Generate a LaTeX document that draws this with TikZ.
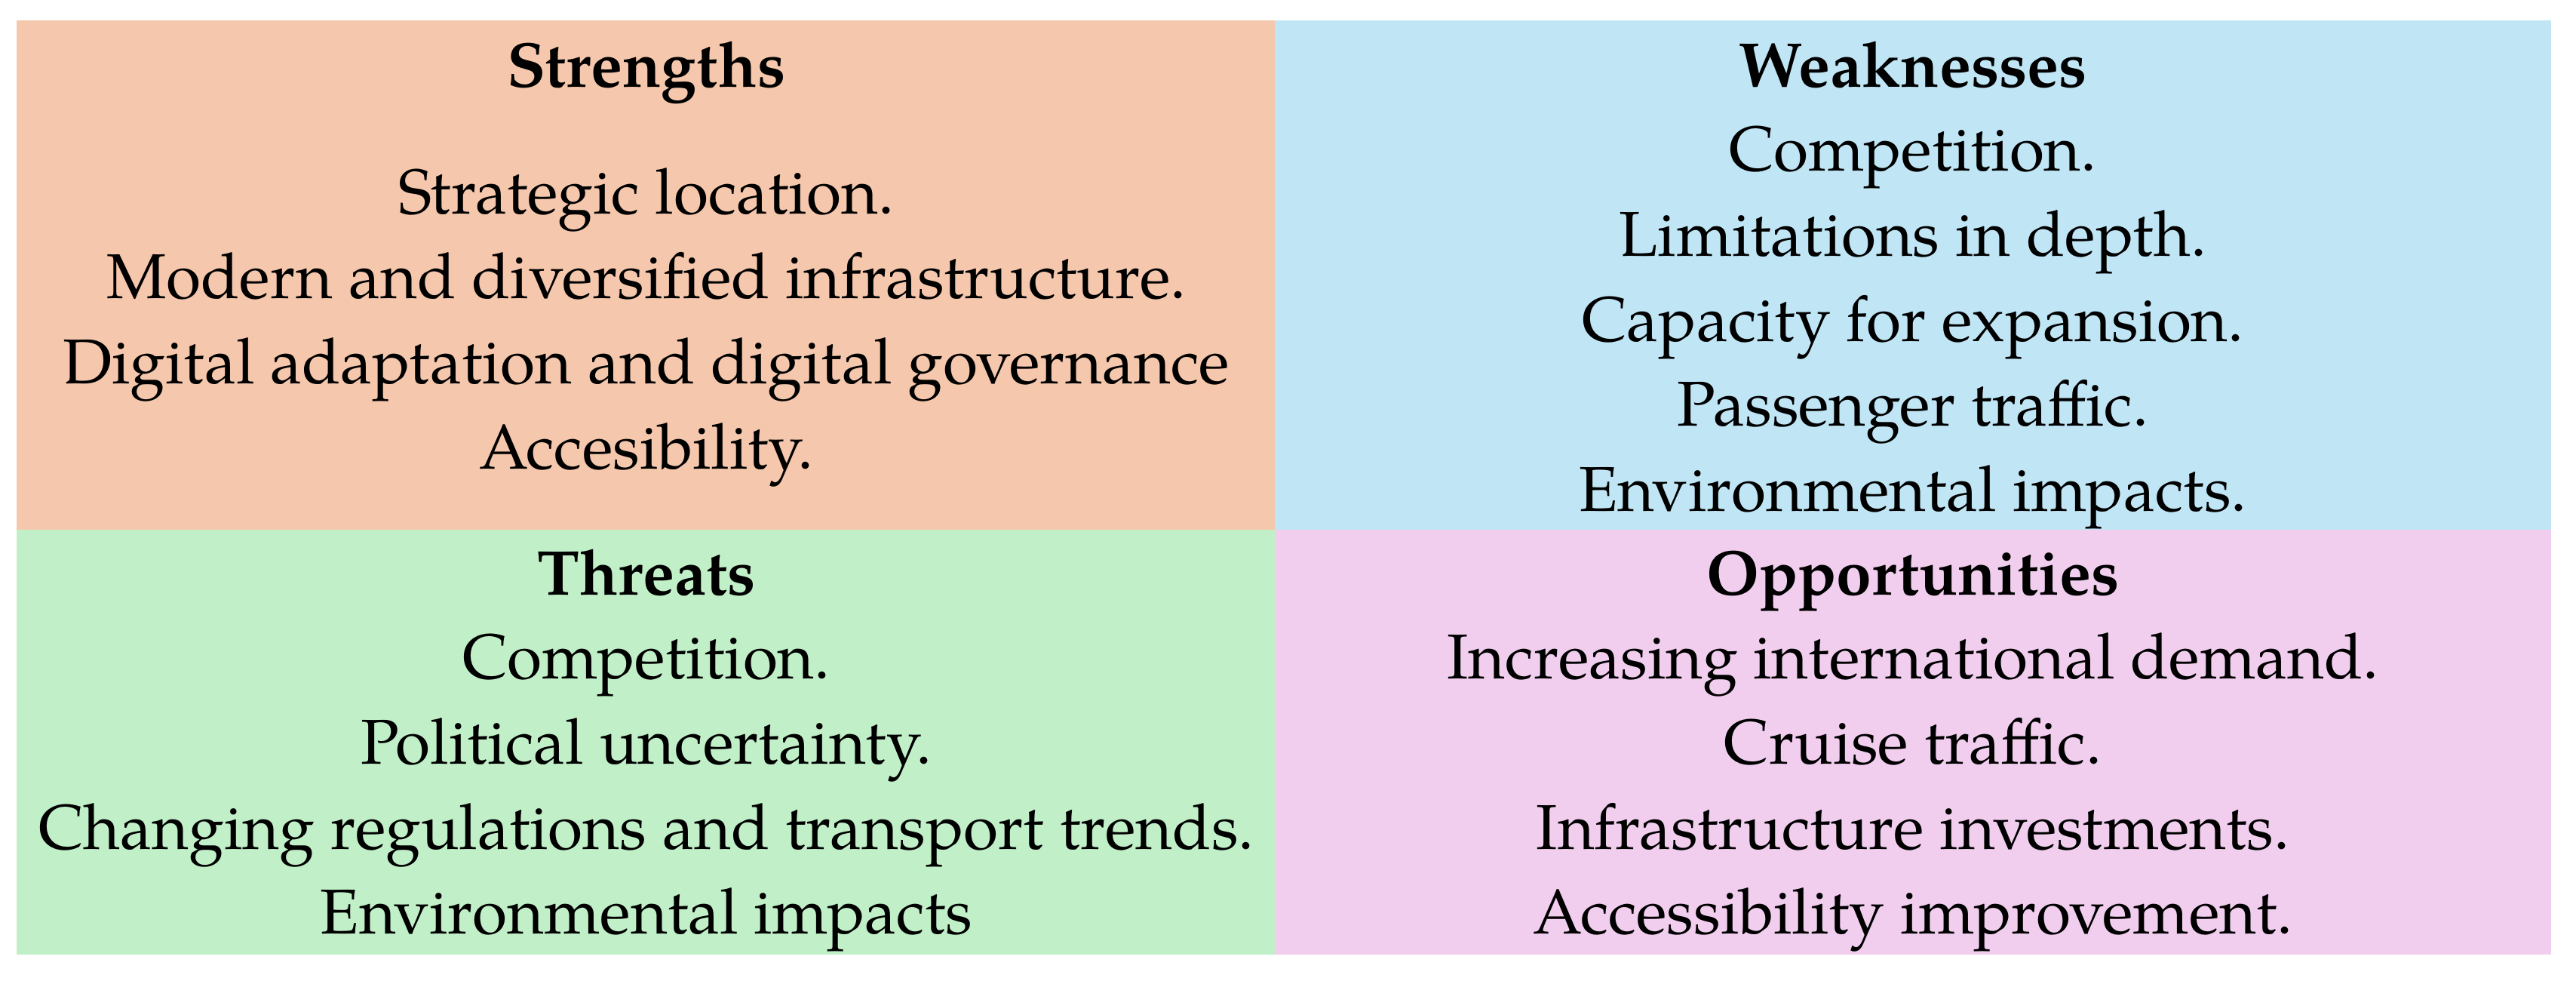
\documentclass[tikz,border=0pt]{standalone}
\usepackage{fontspec}
\setmainfont{TeX Gyre Pagella}
\definecolor{cpeach}{HTML}{F5C7AC}
\definecolor{cblue}{HTML}{C0E5F5}
\definecolor{cgreen}{HTML}{C1EFC8}
\definecolor{cpink}{HTML}{F1CEEE}
\tikzset{
  txt/.style={anchor=base, inner sep=0pt, font=\fontsize{23.9}{28}\selectfont},
  ttl/.style={txt, font=\fontsize{23.9}{28}\selectfont\bfseries}
}
\begin{document}
\begin{tikzpicture}[x=1cm,y=1cm]
\useasboundingbox (0,0) rectangle (34.15,-12.99);
\fill[cpeach] (0.22,-0.27) rectangle (16.90,-7.02);
\fill[cblue] (16.90,-0.27) rectangle (33.82,-7.02);
\fill[cgreen] (0.22,-7.02) rectangle (16.90,-12.65);
\fill[cpink] (16.90,-7.02) rectangle (33.82,-12.65);
% Strengths
\node[ttl] (s0) at (8.57,-1.15) {Strengths};
\node[txt] (s1) at (8.57,-2.83) {Strategic location.};
\node[txt] (s2) at (8.57,-3.95) {Modern and diversified infrastructure.};
\node[txt] (s3) at (8.57,-5.08) {Digital adaptation and digital governance};
\node[txt] (s4) at (8.57,-6.21) {Accesibility.};
% Weaknesses
\node[ttl] (w0) at (25.36,-1.15) {Weaknesses};
\node[txt] (w1) at (25.36,-2.26) {Competition.};
\node[txt] (w2) at (25.36,-3.39) {Limitations in depth.};
\node[txt] (w3) at (25.36,-4.52) {Capacity for expansion.};
\node[txt] (w4) at (25.36,-5.64) {Passenger traffic.};
\node[txt] (w5) at (25.36,-6.77) {Environmental impacts.};
% Threats
\node[ttl] (t0) at (8.57,-7.88) {Threats};
\node[txt] (t1) at (8.57,-8.99) {Competition.};
\node[txt] (t2) at (8.57,-10.12) {Political uncertainty.};
\node[txt] (t3) at (8.57,-11.25) {Changing regulations and transport trends.};
\node[txt] (t4) at (8.57,-12.37) {Environmental impacts};
% Opportunities
\node[ttl] (o0) at (25.36,-7.88) {Opportunities};
\node[txt] (o1) at (25.36,-8.99) {Increasing international demand.};
\node[txt] (o2) at (25.36,-10.12) {Cruise traffic.};
\node[txt] (o3) at (25.36,-11.25) {Infrastructure investments.};
\node[txt] (o4) at (25.36,-12.37) {Accessibility improvement.};
\end{tikzpicture}
\end{document}
